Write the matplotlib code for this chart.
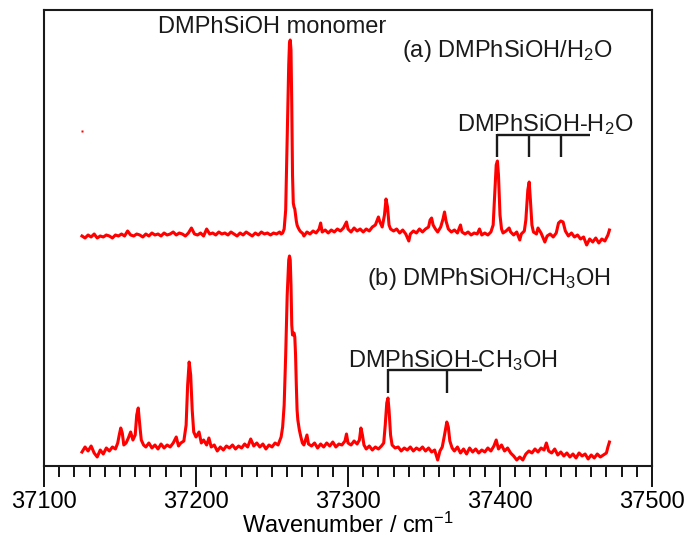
import matplotlib
matplotlib.use("Agg")
import matplotlib.pyplot as plt
from matplotlib.ticker import MultipleLocator

plt.rcParams['font.family'] = ['Liberation Sans', 'DejaVu Sans']
plt.rcParams['mathtext.fontset'] = 'custom'
plt.rcParams['mathtext.rm'] = 'Liberation Sans'
plt.rcParams['mathtext.it'] = 'Liberation Sans:italic'
plt.rcParams['mathtext.bf'] = 'Liberation Sans:bold'

# ---- trace (a): DMPhSiOH / H2O (height in arbitrary units) ----
wn_a = [37125, 37127, 37129, 37131, 37133, 37135, 37137, 37139, 37141, 37143,
        37145, 37147, 37149, 37151, 37153, 37155, 37157, 37159, 37161, 37163,
        37165, 37167, 37169, 37171, 37173, 37175, 37177, 37179, 37181, 37183,
        37185, 37187, 37189, 37191, 37193, 37195, 37197, 37199, 37201, 37203,
        37205, 37207, 37209, 37211, 37213, 37215, 37217, 37219, 37221, 37223,
        37225, 37227, 37229, 37231, 37233, 37235, 37237, 37239, 37241, 37243,
        37245, 37247, 37249, 37251, 37253, 37255,
        37256, 37257, 37258, 37259, 37260, 37261, 37261.5, 37262, 37262.5, 37263,
        37263.5, 37264, 37264.5, 37265, 37265.5, 37266, 37266.5, 37267, 37268, 37269,
        37270, 37271,
        37273, 37275, 37277, 37279, 37281, 37282, 37283, 37285, 37287, 37289,
        37291, 37293, 37295, 37297, 37299, 37300, 37302, 37304, 37306, 37308,
        37310, 37312, 37314, 37316, 37318, 37319, 37320, 37321, 37322.5, 37324,
        37325, 37326, 37327, 37328, 37330, 37332, 37334, 37336, 37338, 37340,
        37341, 37343, 37345, 37347, 37349, 37351, 37353, 37354, 37355, 37356,
        37357.5, 37359, 37361, 37362.5, 37363.5, 37364.5, 37366, 37368, 37370, 37372,
        37374, 37375, 37377, 37379, 37381, 37383, 37385, 37386.5, 37388, 37390,
        37392, 37394, 37395.5, 37396.5, 37397.5, 37398.3, 37399, 37400, 37401, 37402,
        37404, 37406, 37407, 37409, 37411, 37413, 37414, 37416, 37417, 37418.3,
        37419.2, 37420, 37421, 37422, 37424, 37425, 37427, 37429.5, 37431, 37433,
        37435, 37437, 37438.5, 37440, 37441.5, 37443, 37445, 37447, 37449, 37451,
        37453, 37455, 37457, 37459, 37461, 37463, 37465, 37467, 37469, 37471,
        37472]
int_a = [229, 227, 230, 228, 231, 227, 229, 228, 230, 229,
         227, 230, 229, 231, 229, 234, 230, 229, 231, 230,
         228, 231, 229, 232, 230, 231, 229, 232, 230, 231,
         233, 230, 232, 231, 229, 232, 237, 231, 230, 232,
         229, 236, 231, 232, 230, 233, 231, 232, 230, 233,
         231, 229, 232, 230, 233, 231, 229, 232, 230, 233,
         231, 232, 230, 232, 231, 233,
         231, 232, 236, 255, 330, 400, 422, 425, 415, 360,
         290, 262, 258, 256, 250, 244, 240, 238, 235, 233,
         232, 229,
         233, 231, 234, 232, 236, 242, 233, 235, 232, 235,
         233, 236, 234, 237, 243, 236, 233, 237, 234, 236,
         233, 236, 234, 238, 240, 244, 248, 243, 238, 250,
         266, 258, 240, 236, 234, 236, 232, 235, 231, 224,
         231, 234, 232, 236, 233, 236, 238, 245, 247, 240,
         236, 233, 238, 246, 253, 244, 236, 233, 235, 232,
         240, 233, 231, 233, 230, 232, 231, 236, 230, 232,
         230, 233, 240, 270, 300, 304, 290, 250, 236, 232,
         234, 237, 233, 230, 233, 225, 231, 234, 245, 275,
         283, 265, 240, 233, 231, 237, 232, 223, 229, 231,
         228, 232, 242, 244, 243, 234, 229, 232, 228, 230,
         226, 228, 220, 226, 223, 227, 222, 226, 224, 230,
         235]

# ---- trace (b): DMPhSiOH / CH3OH ----
wn_b = [37125, 37127, 37129, 37131, 37133, 37135, 37137, 37139, 37141, 37143,
        37145, 37147, 37148.5, 37149.5, 37150.5, 37151.5, 37152.5, 37154, 37155.5, 37157,
        37158.5, 37160, 37161, 37162, 37163, 37164, 37165.5, 37167, 37169, 37171,
        37173, 37175, 37177, 37179, 37181, 37183, 37185, 37187, 37188.5, 37190,
        37192, 37193.5, 37194.5, 37195.5, 37196.5, 37197.5, 37198.5, 37200, 37202, 37203.5,
        37205, 37207, 37208.5, 37210, 37212, 37214, 37216, 37218, 37220, 37222,
        37224, 37226, 37228, 37230, 37232, 37234, 37236, 37238, 37240, 37242,
        37244, 37246, 37248, 37250, 37252, 37254,
        37255, 37256, 37257, 37258, 37259, 37260, 37261, 37261.5, 37262, 37262.5,
        37263, 37263.5, 37264, 37264.5, 37265, 37265.5, 37266, 37266.5, 37267, 37268,
        37269, 37270, 37271,
        37273, 37274, 37276, 37278, 37280, 37282, 37284, 37286, 37288, 37290,
        37292, 37294, 37296, 37298, 37299, 37300, 37302, 37304, 37306, 37307.5,
        37308.5, 37309.5, 37310.5, 37312, 37314, 37316, 37318, 37320, 37322, 37323.5,
        37324.5, 37325.5, 37326.3, 37327, 37328, 37329, 37331, 37333, 37335, 37337,
        37339, 37341, 37343, 37345, 37347, 37349, 37351, 37353, 37355, 37357,
        37359, 37360.5, 37362, 37363.5, 37365, 37366, 37367, 37368.5, 37370, 37372,
        37374, 37376, 37378, 37380, 37382, 37384, 37386, 37388, 37390, 37392,
        37394, 37396, 37397.5, 37399, 37401, 37403, 37405, 37407, 37409, 37411,
        37413, 37415, 37417, 37419, 37421, 37423, 37425, 37427, 37429, 37430.5,
        37432, 37434, 37436, 37438, 37440, 37442, 37444, 37446, 37448, 37450,
        37452, 37454, 37456, 37458, 37460, 37462, 37464, 37466, 37468, 37470,
        37471, 37472]
int_b = [13, 18, 14, 19, 12, 8, 15, 11, 17, 14,
         18, 16, 22, 30, 37, 32, 20, 22, 27, 33,
         25, 30, 50, 57, 40, 25, 20, 18, 22, 17,
         20, 16, 21, 17, 20, 18, 22, 28, 19, 22,
         24, 40, 80, 103, 90, 55, 33, 28, 33, 22,
         25, 20, 27, 18, 20, 14, 18, 15, 19, 17,
         20, 16, 19, 17, 21, 18, 26, 19, 22, 18,
         21, 16, 20, 18, 22, 20,
         24, 28, 38, 60, 110, 170, 205, 209, 205, 180,
         140, 130, 131, 132, 128, 110, 80, 55, 45, 35,
         28, 22, 20,
         30, 21, 19, 22, 17, 21, 18, 22, 19, 23,
         18, 21, 20, 24, 31, 22, 20, 24, 21, 25,
         37, 30, 20, 16, 19, 15, 18, 16, 19, 22,
         40, 62, 67, 55, 30, 20, 17, 18, 14, 17,
         15, 18, 14, 17, 15, 18, 14, 17, 13, 15,
         5, 14, 18, 30, 43, 38, 24, 17, 14, 18,
         12, 16, 11, 17, 13, 16, 12, 15, 13, 17,
         14, 19, 25, 16, 20, 14, 17, 12, 9, 5,
         8, 5, 11, 14, 12, 16, 13, 17, 15, 22,
         14, 12, 16, 10, 13, 9, 12, 8, 11, 7,
         12, 9, 11, 6, 10, 7, 11, 8, 10, 12,
         18, 23]

# stray point
stray_wn = [37124.8]
stray_int = [334]

# assignment brackets
h2o_lines = [37398, 37419, 37440]
h2o_bar_end = 37459
meoh_lines = [37326, 37365.4]
meoh_bar_end = 37388

fig = plt.figure(figsize=(6.91, 5.39), dpi=100)
ax = fig.add_axes([44/691, (539-466)/539, (652-44)/691, (466-10)/539])

red = '#ff0000'
ax.plot(wn_a, int_a, color=red, lw=2.2, solid_joinstyle='round')
ax.plot(wn_b, int_b, color=red, lw=2.2, solid_joinstyle='round')
ax.plot(stray_wn, stray_int, 's', color=red, ms=2, mec='none')

ax.set_xlim(37100, 37500)
ax.set_ylim(-1, 455)

bk = '#1a1a1a'
# H2O bracket
ax.plot([h2o_lines[0], h2o_bar_end], [330, 330], color=bk, lw=1.7, solid_capstyle='butt')
for w in h2o_lines:
    ax.plot([w, w], [331, 308], color=bk, lw=1.7, solid_capstyle='butt')
# CH3OH bracket
ax.plot([meoh_lines[0], meoh_bar_end], [95, 95], color=bk, lw=1.7, solid_capstyle='butt')
for w in meoh_lines:
    ax.plot([w, w], [96, 72], color=bk, lw=1.7, solid_capstyle='butt')

fs = 17
def px2x(px):
    return 37100 + (px - 44) / 1.52
def py2y(py):
    return 465 - py

ax.text(px2x(158), py2y(33), 'DMPhSiOH monomer', fontsize=fs, ha='left', va='baseline', color=bk)
ax.text(px2x(402), py2y(57), r'(a) DMPhSiOH/H$_2$O', fontsize=fs, ha='left', va='baseline', color=bk)
ax.text(px2x(457), py2y(131), r'DMPhSiOH-H$_2$O', fontsize=fs, ha='left', va='baseline', color=bk)
ax.text(px2x(367), py2y(285), r'(b) DMPhSiOH/CH$_3$OH', fontsize=fs, ha='left', va='baseline', color=bk)
ax.text(px2x(348), py2y(367), r'DMPhSiOH-CH$_3$OH', fontsize=fs, ha='left', va='baseline', color=bk)

ax.xaxis.set_major_locator(MultipleLocator(100))
ax.xaxis.set_minor_locator(MultipleLocator(10))
ax.tick_params(axis='x', which='major', direction='out', length=15, width=1.3, labelsize=fs, pad=3)
ax.tick_params(axis='x', which='minor', direction='out', length=8, width=1.3)
ax.set_yticks([])
ax.xaxis.set_major_formatter(matplotlib.ticker.FormatStrFormatter('%d'))
for s in ax.spines.values():
    s.set_linewidth(1.5)
    s.set_color(bk)

ax.set_xlabel(r'Wavenumber / cm$^{-1}$', fontsize=fs)
ax.xaxis.set_label_coords(0.5, (466 - 525) / 456)
ax.xaxis.label.set_va('center')

fig.savefig('out.png', dpi=100)
